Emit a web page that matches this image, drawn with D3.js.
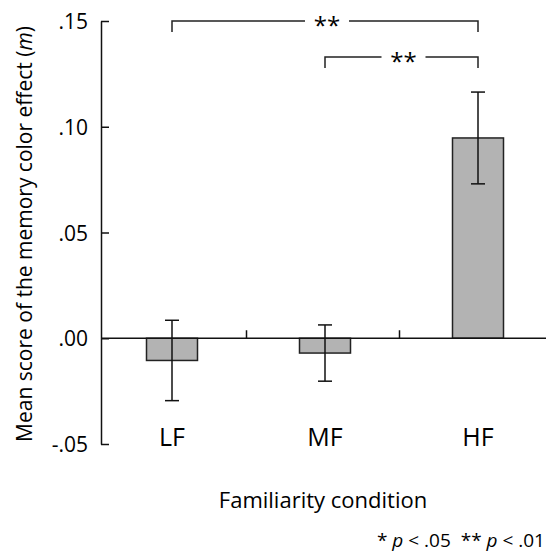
<!DOCTYPE html>
<html>
<head>
<meta charset="utf-8">
<script src="https://cdn.jsdelivr.net/npm/d3@7"></script>
<style>
  body { margin: 0; background: #fff; }
  svg text { font-family: "Open Sans", "Noto Sans", sans-serif; fill: #000; }
</style>
</head>
<body>
<div id="content"></div>
<script>
var width = 549;
var height = 556;

// data
var categories = ["LF", "MF", "HF"];
var means = [-0.0105, -0.0070, 0.0947];
var errors = [0.0190, 0.0133, 0.0217];
var yTicks = [-0.05, 0, 0.05, 0.10, 0.15];
var yTickLabels = ["-.05", ".00", ".05", ".10", ".15"];
var comparisons = [
    { from: "LF", to: "HF", level: 0.15, label: "**" },
    { from: "MF", to: "HF", level: 0.133, label: "**" }
];

var svg = d3.select("#content").append("svg").attr("width", width).attr("height", height);

var yScale = d3.scaleLinear().domain([-0.05, 0.15]).range([444, 21]);
var xScale = d3.scalePoint().domain(categories).range([172, 478]);

var axisX = 101;
var barWidth = 51;

// y axis, ticks pointing inward
var yAxis = d3.axisLeft(yScale)
    .tickValues(yTicks)
    .tickSize(-8)
    .tickSizeOuter(0)
    .tickPadding(13)
    .tickFormat(function (d, i) { return yTickLabels[i]; });

var yAxisG = svg.append("g")
    .attr("transform", `translate(${axisX}, 0)`)
    .call(yAxis);
yAxisG.select(".domain").attr("stroke", "#111").attr("stroke-width", 1.5);
yAxisG.selectAll(".tick line").attr("stroke", "#111").attr("stroke-width", 1.5);
yAxisG.selectAll(".tick text")
    .attr("font-size", 21)
    .attr("font-family", null)
    .attr("fill", "#000")
    .attr("dy", "0.36em");

// bars
var data = categories.map(function (c, i) { return { cat: c, mean: means[i], err: errors[i] }; });

svg.selectAll(".bar")
    .data(data)
    .enter()
    .append("rect")
    .attr("class", "bar")
    .attr("x", d => xScale(d.cat) - barWidth / 2)
    .attr("y", d => yScale(Math.max(0, d.mean)))
    .attr("width", barWidth)
    .attr("height", d => Math.abs(yScale(d.mean) - yScale(0)))
    .attr("fill", "#b3b3b3")
    .attr("stroke", "#222")
    .attr("stroke-width", 1.5);

// zero line
svg.append("line")
    .attr("x1", axisX).attr("x2", 546)
    .attr("y1", yScale(0)).attr("y2", yScale(0))
    .attr("stroke", "#111").attr("stroke-width", 1.5);

// small separators between categories
var seps = d3.pairs(categories).map(p => (xScale(p[0]) + xScale(p[1])) / 2 - 2);
svg.selectAll(".sep")
    .data(seps)
    .enter()
    .append("line")
    .attr("x1", d => d).attr("x2", d => d)
    .attr("y1", yScale(0)).attr("y2", yScale(0) - 8)
    .attr("stroke", "#111").attr("stroke-width", 1.5);

// error bars
var eb = svg.selectAll(".err").data(data).enter().append("g").attr("class", "err")
    .attr("stroke", "#111").attr("stroke-width", 1.5);
eb.append("line")
    .attr("x1", d => xScale(d.cat)).attr("x2", d => xScale(d.cat))
    .attr("y1", d => yScale(d.mean + d.err)).attr("y2", d => yScale(d.mean - d.err));
eb.append("line")
    .attr("x1", d => xScale(d.cat) - 7).attr("x2", d => xScale(d.cat) + 7)
    .attr("y1", d => yScale(d.mean + d.err)).attr("y2", d => yScale(d.mean + d.err));
eb.append("line")
    .attr("x1", d => xScale(d.cat) - 7).attr("x2", d => xScale(d.cat) + 7)
    .attr("y1", d => yScale(d.mean - d.err)).attr("y2", d => yScale(d.mean - d.err));

// category labels
svg.selectAll(".cat")
    .data(categories)
    .enter()
    .append("text")
    .attr("x", d => xScale(d))
    .attr("y", 446)
    .attr("text-anchor", "middle")
    .attr("font-size", 25)
    .text(d => d);

// significance brackets
comparisons.forEach(function (c) {
    var x1 = xScale(c.from), x2 = xScale(c.to);
    var y = yScale(c.level);
    var mid = (x1 + x2) / 2 + 2;
    var gap = 22;
    svg.append("path")
        .attr("d", `M${x1},${y + 11}V${y}H${mid - gap}`)
        .attr("fill", "none").attr("stroke", "#222").attr("stroke-width", 1.5);
    svg.append("path")
        .attr("d", `M${mid + gap},${y}H${x2}V${y + 11}`)
        .attr("fill", "none").attr("stroke", "#222").attr("stroke-width", 1.5);
    svg.append("text")
        .attr("x", mid)
        .attr("y", y + 13)
        .attr("text-anchor", "middle")
        .attr("font-size", 24)
        .text(c.label);
});

// axis titles
svg.append("text")
    .attr("transform", "translate(32, 234) rotate(-90)")
    .attr("text-anchor", "middle")
    .attr("font-size", 21)
    .html("Mean score of the memory color effect (<tspan font-style='italic'>m</tspan>)");

svg.append("text")
    .attr("x", 323)
    .attr("y", 508)
    .attr("text-anchor", "middle")
    .attr("font-size", 22)
    .text("Familiarity condition");

svg.append("text")
    .attr("x", 545)
    .attr("y", 547)
    .attr("text-anchor", "end")
    .attr("font-size", 19)
    .attr("xml:space", "preserve")
    .html("* <tspan font-style='italic'>p</tspan> &lt; .05  ** <tspan font-style='italic'>p</tspan> &lt; .01");
</script>
</body>
</html>
